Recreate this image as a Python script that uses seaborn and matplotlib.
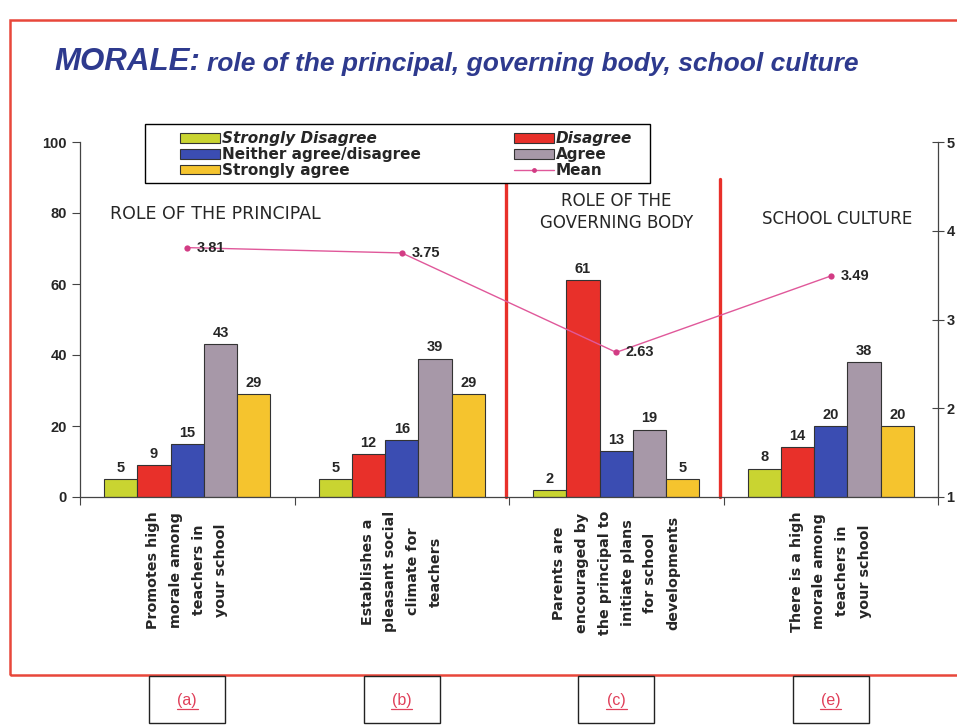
import numpy as np
import pandas as pd
import seaborn as sns
import matplotlib.pyplot as plt
from matplotlib.patches import Patch, Rectangle
from matplotlib.lines import Line2D
import matplotlib.transforms as mtransforms

# Survey items (x categories) and the panel letter shown under each one
items = [
    "Promotes high\nmorale among\nteachers in\nyour school",
    "Establishes a\npleasant social\nclimate for\nteachers",
    "Parents are\nencouraged by\nthe principal to\ninitiate plans\nfor school\ndevelopments",
    "There is a high\nmorale among\nteachers in\nyour school",
]
panels = ["(a)", "(b)", "(c)", "(e)"]

responses = ["Strongly Disagree", "Disagree", "Neither agree/disagree",
             "Agree", "Strongly agree"]
strongly_disagree = [5, 5, 2, 8]
disagree = [9, 12, 61, 14]
neither = [15, 16, 13, 20]
agree = [43, 39, 19, 38]
strongly_agree = [29, 29, 5, 20]
means = [3.81, 3.75, 2.63, 3.49]

colors = ["#c9d431", "#e8302a", "#3b4db2", "#a798a8", "#f5c42e"]
mean_color = "#e0589a"

df = pd.DataFrame({
    "item": np.repeat(items, len(responses)),
    "response": responses * len(items),
    "pct": np.column_stack([strongly_disagree, disagree, neither,
                            agree, strongly_agree]).ravel(),
})

sns.set_theme(style="ticks")
plt.rcParams["font.family"] = ["Liberation Sans", "DejaVu Sans"]
wide = ["DejaVu Sans"]  # stands in for the letter-spaced scan text

fig = plt.figure(figsize=(9.57, 7.25), dpi=100)
ax = fig.add_axes([80 / 957, 1 - 497 / 725, 858 / 957, 355 / 725])

sns.barplot(data=df, x="item", y="pct", hue="response", hue_order=responses,
            palette=colors, saturation=1, width=0.775, edgecolor="#333333",
            linewidth=0.8, legend=False, ax=ax)
for cont in ax.containers:
    ax.bar_label(cont, padding=3, fontsize=10.5, fontweight="bold")

ax.set_ylim(0, 100)
ax.set_xlim(-0.5, len(items) - 0.5)
ax.set_yticks(range(0, 101, 20))
ax.set_xlabel("")
ax.set_ylabel("")
ax.tick_params(axis="y", labelsize=10.5, length=6, width=0.8, color="#444")
for lab in ax.get_yticklabels():
    lab.set_fontweight("bold")
ax.set_xticks(range(len(items)))
ax.set_xticklabels(items, rotation=90, ha="center", va="top", family=wide,
                   fontsize=10.3, fontweight="bold", linespacing=1.8)
ax.set_xticks(np.arange(len(items) + 1) - 0.5, minor=True)
ax.tick_params(axis="x", which="major", length=0, pad=10)
ax.tick_params(axis="x", which="minor", length=6, width=0.8, color="#444")
sns.despine(ax=ax, top=True, right=True)
for s in ["left", "bottom"]:
    ax.spines[s].set_color("#444")
    ax.spines[s].set_linewidth(0.9)

# red separators around the governing body section
for xb in [1.5, 2.5]:
    ax.axvline(xb - 0.015, ymin=0, ymax=0.895, color="#e8302a", lw=2.4,
               clip_on=False, zorder=1)

# mean line on the secondary axis (1-5 scale)
ax2 = ax.twinx()
sns.lineplot(x=np.arange(len(items)), y=means, ax=ax2, color=mean_color,
             lw=1.0, marker="o", markersize=4.5, markeredgewidth=0,
             markerfacecolor="#d23c84")
for i, m in enumerate(means):
    ax2.annotate(f"{m:.2f}", (i, m), xytext=(7, 0), textcoords="offset points",
                 ha="left", va="center", fontsize=10.5, fontweight="bold")
ax2.set_ylim(1, 5)
ax2.set_yticks(range(1, 6))
ax2.set_xlim(-0.5, len(items) - 0.5)
ax2.tick_params(axis="y", direction="inout", length=8, width=0.8,
                color="#444", labelsize=10.5, pad=2)
for lab in ax2.get_yticklabels():
    lab.set_fontweight("bold")
for s in ["top", "left", "bottom"]:
    ax2.spines[s].set_visible(False)
ax2.spines["right"].set_color("#444")
ax2.spines["right"].set_linewidth(0.9)

# section labels
ax.text(-0.36, 79.7, "ROLE OF THE PRINCIPAL", ha="left", va="center",
        fontsize=12.5, family=wide)
ax.text(2.0, 80.3, "ROLE OF THE\nGOVERNING BODY", ha="center", va="center",
        fontsize=12, family=wide, linespacing=1.3)
ax.text(3.03, 78.3, "SCHOOL CULTURE", ha="center", va="center",
        fontsize=12, family=wide)

# legend: frame drawn separately so the entries can sit off-centre like the original
ax2.add_patch(Rectangle((0.0758, 0.8845), 0.588, 0.166, transform=ax2.transAxes,
                        facecolor="white", edgecolor="black", lw=1.0,
                        clip_on=False, zorder=5))
handles = [Patch(facecolor=c, edgecolor="#333333", linewidth=0.8)
           for c in colors]
handles.append(Line2D([], [], color=mean_color, lw=1.0, marker="o",
                      markersize=3.5, markerfacecolor="#d23c84",
                      markeredgewidth=0))
labels = responses + ["Mean"]
order = [0, 2, 4, 1, 3, 5]
leg = ax2.legend([handles[i] for i in order], [labels[i] for i in order],
                 ncol=2, loc="center", mode="expand",
                 bbox_to_anchor=(0.1166, 0.890, 0.527, 0.149),
                 borderaxespad=0, frameon=False, handlelength=2.6,
                 handleheight=0.6, handletextpad=0.15, labelspacing=0.05,
                 borderpad=0, columnspacing=1.0,
                 prop={"size": 11, "weight": "bold", "family": wide})
leg.set_zorder(6)
for t in leg.get_texts():
    if t.get_text() in ("Strongly Disagree", "Disagree"):
        t.set_fontstyle("italic")

# title: big "MORALE:" followed by the smaller subtitle on the same baseline
title_color = "#2e3a8e"
t1 = fig.text(54 / 957, 1 - 70 / 725, "MORALE:", fontsize=22.5,
              fontweight="bold", fontstyle="italic", color=title_color,
              ha="left", va="baseline")
fig.add_artist(plt.Annotation(
    "role of the principal, governing body, school culture",
    xy=(1, 0), xycoords=t1, xytext=(5, 0.5), textcoords="offset points",
    ha="left", va="bottom", fontsize=19, fontweight="bold",
    fontstyle="italic", color=title_color))

# outer red frame
fig.add_artist(Rectangle((10 / 957, 1 - 675 / 725), 1.0, (675 - 20) / 725,
                         transform=fig.transFigure, fill=False,
                         edgecolor="#e8473a", lw=1.8))

# panel boxes under the frame, one per item
trans = mtransforms.blended_transform_factory(ax.transData, fig.transFigure)
for i, p in enumerate(panels):
    fig.add_artist(Rectangle((i - 0.177, 1 - 723 / 725), 0.354, 47 / 725,
                             transform=trans, fill=False,
                             edgecolor="#222", lw=1.0))
    fig.text(i, 1 - 700 / 725, p, transform=trans, ha="center",
             va="center", fontsize=11.5, color="#e0405a")
    fig.add_artist(Line2D([i - 0.05, i + 0.05], [1 - 709 / 725] * 2,
                          transform=trans, color="#e0405a", lw=0.9))

fig.savefig("out.png", dpi=100, facecolor="white")
